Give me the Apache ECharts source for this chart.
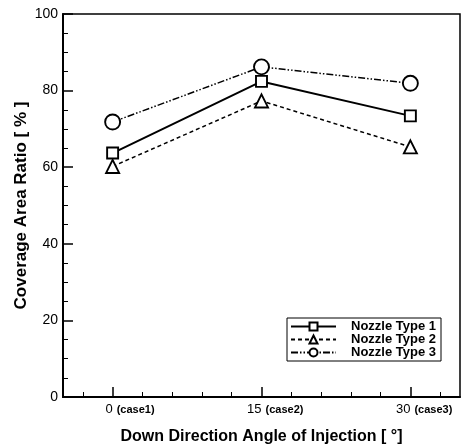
<!DOCTYPE html>
<html><head><meta charset="utf-8">
<script src="https://cdn.jsdelivr.net/npm/echarts@6/dist/echarts.min.js"></script>
<style>html,body{margin:0;padding:0;background:#fff}#c{width:469px;height:445px}</style>
</head><body><div id="c"></div>
<script>
const angles = [0, 15, 30];
const caseLabels = ['(case1)', '(case2)', '(case3)'];
const type1 = [63.7, 82.4, 73.4];
const type2 = [60.2, 77.3, 65.3];
const type3 = [71.8, 86.2, 81.9];
const seriesNames = ['Nozzle Type 1', 'Nozzle Type 2', 'Nozzle Type 3'];
const yTicks = [0, 20, 40, 60, 80, 100];
const xMinorTicks = [-3, 3, 6, 9, 12, 18, 21, 24, 27, 33];

const FONT = 'Liberation Sans, Arial, sans-serif';
const chart = echarts.init(document.getElementById('c'), null, {renderer: 'canvas'});
const pairs = arr => angles.map((a, i) => [a, arr[i]]);
const mk = (name, data, symbol, size, lineType, width) => ({
  name, type: 'line', data: pairs(data), symbol, symbolSize: size,
  xAxisIndex: 0, yAxisIndex: 0,
  lineStyle: {color: '#000', width, type: lineType},
  itemStyle: {color: '#fff', borderColor: '#000', borderWidth: 1.9},
  emphasis: {disabled: true}, animation: false, z: 5
});
chart.setOption({
  animation: false,
  grid: {left: 63, top: 14, right: 9, bottom: 48, outerBoundsMode: 'none', containLabel: false,
    show: true, borderColor: '#000', borderWidth: 1.5, backgroundColor: 'transparent'},
  legend: {
    left: 287, top: 318, orient: 'vertical', itemWidth: 45, itemHeight: 10, itemGap: 0,
    padding: [2, 5, 2, 3], borderColor: '#000', borderWidth: 1, backgroundColor: '#fff',
    textStyle: {fontFamily: FONT, fontWeight: 'bold', fontSize: 13, lineHeight: 12, color: '#000', padding: [0, 0, 0, 10]},
    data: seriesNames
  },
  xAxis: [{
    type: 'value', min: -5, max: 35, position: 'bottom',
    axisLine: {show: true, onZero: false, lineStyle: {color: '#000', width: 2}},
    axisTick: {show: true, inside: true, length: 10, customValues: angles, lineStyle: {color: '#000', width: 1.5}},
    axisLabel: {customValues: angles, formatter: v => String(v), align: 'right', margin: 6, padding: [0, 0, 0, 0],
      fontFamily: FONT, fontSize: 13, color: '#000'},
    splitLine: {show: false},
    name: 'Down Direction Angle of Injection [ °]', nameLocation: 'middle', nameGap: 32,
    nameTextStyle: {fontFamily: FONT, fontWeight: 'bold', fontSize: 16, color: '#000'}
  }, {
    type: 'value', min: -5, max: 35, position: 'bottom',
    axisLine: {show: false, onZero: false},
    axisTick: {show: true, inside: true, length: 5, customValues: xMinorTicks, lineStyle: {color: '#000', width: 1}},
    axisLabel: {customValues: angles, formatter: v => caseLabels[angles.indexOf(v)], align: 'left', margin: 7, padding: [0, 0, 0, 4],
      fontFamily: FONT, fontWeight: 'bold', fontSize: 11, color: '#000'},
    splitLine: {show: false}
  }],
  yAxis: {
    type: 'value', min: 0, max: 100, interval: 20,
    axisLine: {show: true, onZero: false, lineStyle: {color: '#000', width: 2}},
    axisTick: {show: true, inside: true, length: 10, lineStyle: {color: '#000', width: 1.5}},
    minorTick: {show: true, splitNumber: 4, length: 5, lineStyle: {color: '#000', width: 1}},
    axisLabel: {margin: 5, fontFamily: FONT, fontSize: 14, color: '#000', customValues: yTicks},
    splitLine: {show: false},
    name: 'Coverage Area Ratio [ % ]', nameLocation: 'middle', nameGap: 33, nameMoveOverlap: false,
    nameTextStyle: {fontFamily: FONT, fontWeight: 'bold', fontSize: 17, color: '#000'}
  },
  series: [
    mk(seriesNames[0], type1, 'rect', 11, 'solid', 2),
    mk(seriesNames[1], type2, 'triangle', 13, [4, 3], 1.5),
    mk(seriesNames[2], type3, 'circle', 15, [7, 2, 1.5, 2, 1.5, 2], 1.5)
  ]
});
</script></body></html>
